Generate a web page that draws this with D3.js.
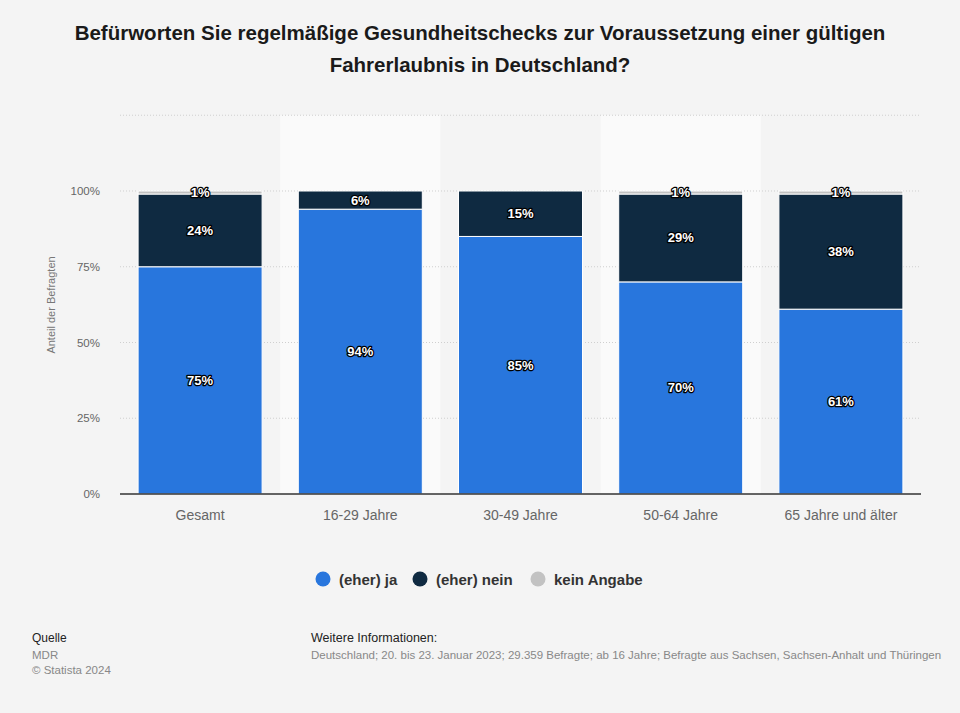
<!DOCTYPE html>
<html><head><meta charset="utf-8">
<script src="https://cdn.jsdelivr.net/npm/d3@7"></script>
<style>body{margin:0;background:#f4f4f4;font-family:"Liberation Sans",Arial,sans-serif;}</style>
</head><body><svg id="c" width="960" height="713"></svg>
<script>
const categories = ["Gesamt","16-29 Jahre","30-49 Jahre","50-64 Jahre","65 Jahre und älter"];
const seriesNames = ["(eher) ja","(eher) nein","kein Angabe"];
const ja = [75,94,85,70,61];
const nein = [24,6,15,29,38];
const keine = [1,0,0,1,1];
const colors = ["#2876dd","#0f2a41","#c2c2c2"];
const yTicks = [0,25,50,75,100];

const svg = d3.select("#c");
svg.append("rect").attr("width",960).attr("height",713).attr("fill","#f4f4f4");

const x = d3.scaleBand().domain(categories).range([120,921]).paddingInner(0).paddingOuter(0);
const y = d3.scaleLinear().domain([0,125]).range([494,115.25]);

// alternating background
categories.forEach((c,i)=>{ if(i%2===1) svg.append("rect").attr("x",x(c)).attr("y",y(125)).attr("width",x.bandwidth()).attr("height",y(0)-y(125)).attr("fill","#fafafa"); });

// gridlines
[...yTicks.slice(1),125].forEach(t=>{
  svg.append("line").attr("x1",120).attr("x2",921).attr("y1",y(t)).attr("y2",y(t))
   .attr("stroke","#cfcfcf").attr("stroke-dasharray","1,2").attr("stroke-width",1);
});

// y axis labels
const yAxis = d3.axisLeft(y).tickValues(yTicks).tickFormat(d=>d+"%").tickSize(0).tickPadding(20);
const ya = svg.append("g").attr("transform","translate(120,0)").call(yAxis);
ya.select(".domain").remove();
ya.selectAll("text").attr("fill","#666").style("font-size","11.5px").style("font-family","Liberation Sans, Arial, sans-serif");

svg.append("text").attr("transform","translate(55,305) rotate(-90)").attr("text-anchor","middle")
  .attr("fill","#777").style("font-size","11px").text("Anteil der Befragten");

// stacked data
const data = categories.map((c,i)=>({cat:c, ja:ja[i], nein:nein[i], keine:keine[i]}));
const stack = d3.stack().keys(["ja","nein","keine"])(data);
const barW = 124;
stack.forEach((layer,li)=>{
  svg.append("g").selectAll("rect").data(layer).join("rect")
    .attr("x",d=>x(d.data.cat)+(x.bandwidth()-barW)/2)
    .attr("width",barW)
    .attr("y",d=>y(d[1]))
    .attr("height",d=>Math.max(0,y(d[0])-y(d[1])))
    .attr("fill",colors[li])
    .attr("stroke","#ffffff").attr("stroke-width",d=>(d[1]-d[0])>0?1:0);
});
// labels
stack.forEach((layer,li)=>{
  layer.forEach(d=>{
    const v = d[1]-d[0];
    if(v<=0) return;
    const cx = x(d.data.cat)+x.bandwidth()/2;
    const cy = (y(d[0])+y(d[1]))/2 + 4.5;
    svg.append("text").attr("x",cx).attr("y",cy).attr("text-anchor","middle")
      .style("font-size","13px").style("font-weight","bold")
      .attr("fill","#fff").attr("stroke","#000").attr("stroke-width",2.5).attr("stroke-linejoin","round")
      .attr("paint-order","stroke").text(v+"%");
  });
});

// x axis
svg.append("line").attr("x1",120).attr("x2",921).attr("y1",494).attr("y2",494).attr("stroke","#333").attr("stroke-width",1.5);
const xa = svg.append("g").attr("transform","translate(0,494)").call(d3.axisBottom(x).tickSize(0).tickPadding(16));
xa.select(".domain").remove();
xa.selectAll("text").attr("fill","#666").style("font-size","14px").style("font-family","Liberation Sans, Arial, sans-serif");

// title
const title = svg.append("text").attr("text-anchor","middle").attr("fill","#1a1a1a").style("font-size","20.5px").style("font-weight","bold");
title.append("tspan").attr("x",480).attr("y",40).text("Befürworten Sie regelmäßige Gesundheitschecks zur Voraussetzung einer gültigen");
title.append("tspan").attr("x",480).attr("y",72).text("Fahrerlaubnis in Deutschland?");

// legend
const legX = [323,420,538];
seriesNames.forEach((n,i)=>{
  svg.append("circle").attr("cx",legX[i]).attr("cy",579).attr("r",7.5).attr("fill",colors[i]);
  svg.append("text").attr("x",legX[i]+16).attr("y",584.5).attr("fill","#333").style("font-size","15px").style("font-weight","bold").text(n);
});

// footer
svg.append("text").attr("x",32).attr("y",642).attr("fill","#222").style("font-size","12px").text("Quelle");
svg.append("text").attr("x",32).attr("y",659).attr("fill","#888").style("font-size","11.5px").text("MDR");
svg.append("text").attr("x",32).attr("y",674).attr("fill","#888").style("font-size","11.5px").text("© Statista 2024");
svg.append("text").attr("x",311).attr("y",642).attr("fill","#222").style("font-size","12.5px").text("Weitere Informationen:");
svg.append("text").attr("x",311).attr("y",659).attr("fill","#888").style("font-size","11.5px").text("Deutschland; 20. bis 23. Januar 2023; 29.359 Befragte; ab 16 Jahre; Befragte aus Sachsen, Sachsen-Anhalt und Thüringen");
</script></body></html>
